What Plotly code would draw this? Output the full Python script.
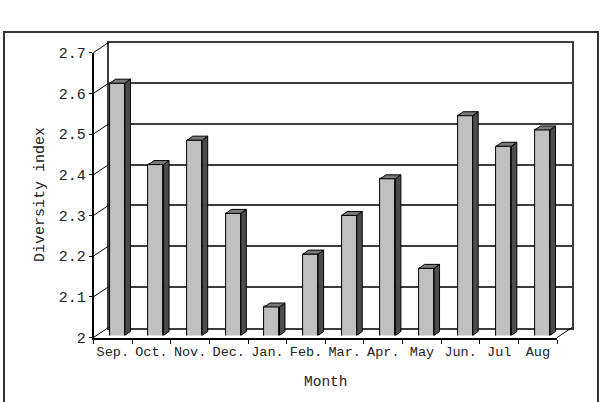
import plotly.graph_objects as go

# ---------------- data ----------------
months = ["Sep.", "Oct.", "Nov.", "Dec.", "Jan.", "Feb.", "Mar.", "Apr.", "May", "Jun.", "Jul", "Aug"]
diversity = [2.62, 2.42, 2.48, 2.30, 2.07, 2.20, 2.295, 2.385, 2.165, 2.54, 2.465, 2.505]
y_ticks = [2.0, 2.1, 2.2, 2.3, 2.4, 2.5, 2.6, 2.7]
y_ticktext = ["2", "2.1", "2.2", "2.3", "2.4", "2.5", "2.6", "2.7"]
x_title = "Month"
y_title = "Diversity index"

# ---------------- geometry (pixels) ----------------
W, H = 604, 402
Y0, Y1 = 2.0, 2.7
PPU = 407.0  # pixels per unit of the value axis

def px(x):
    return x / W

def py(y):
    return 1 - y / H

def ydom(ybase):
    return [py(ybase), py(ybase - (Y1 - Y0) * PPU)]

FRONT = dict(x0=93.5, x1=557.2, yb=337.5)
BARS = dict(x0=98.1, x1=561.8, yb=335.5)
BACK = dict(x0=108.5, x1=572.0, yb=327.5)

FONT = "Liberation Mono"
WALL = "#3c3c3c"

n = len(months)
pos = list(range(n))
bw = 0.388      # bar face width (category units)
ddx = 0.142     # depth offset of a bar (category units)
ddy = 0.0098    # depth offset of a bar (value units)

fig = go.Figure()

# back wall subplot (xy) – registered with an empty trace
fig.add_trace(go.Scatter(x=[], y=[], xaxis="x", yaxis="y", showlegend=False, hoverinfo="skip"))

# bars: front faces
fig.add_trace(go.Bar(
    x=pos, y=diversity, width=bw, xaxis="x2", yaxis="y2",
    marker=dict(color="#c0c0c0", line=dict(color="#000000", width=1)),
    showlegend=False, hoverinfo="skip"))

# bars: side faces
sx, sy = [], []
for i, v in zip(pos, diversity):
    xr = i + bw / 2
    sx += [xr, xr, xr + ddx, xr + ddx, xr, None]
    sy += [Y0, v, v + ddy, Y0 + ddy, Y0, None]
fig.add_trace(go.Scatter(
    x=sx, y=sy, xaxis="x2", yaxis="y2", mode="lines", fill="toself",
    fillcolor="#4c4c4c", line=dict(color="#000000", width=1),
    showlegend=False, hoverinfo="skip"))

# bars: top faces
tx, ty = [], []
for i, v in zip(pos, diversity):
    xl, xr = i - bw / 2, i + bw / 2
    tx += [xl, xr, xr + ddx, xl + ddx, xl, None]
    ty += [v, v, v + ddy, v + ddy, v, None]
fig.add_trace(go.Scatter(
    x=tx, y=ty, xaxis="x2", yaxis="y2", mode="lines", fill="toself",
    fillcolor="#7a7a7a", line=dict(color="#000000", width=1),
    showlegend=False, hoverinfo="skip"))

# front axes subplot (x3y3): invisible carrier trace
fig.add_trace(go.Scatter(
    x=months, y=diversity, xaxis="x3", yaxis="y3", mode="markers",
    marker=dict(opacity=0), showlegend=False, hoverinfo="skip"))

# ---------------- chart furniture ----------------
shapes = []
# left wall: oblique lines from front axis ticks to the back wall
for t in y_ticks:
    yf = FRONT["yb"] - (t - Y0) * PPU
    yk = BACK["yb"] - (t - Y0) * PPU
    shapes.append(dict(type="line", xref="paper", yref="paper",
                       x0=px(FRONT["x0"]), y0=py(yf), x1=px(BACK["x0"]), y1=py(yk),
                       line=dict(color="#000000", width=1)))
# floor right edge
shapes.append(dict(type="line", xref="paper", yref="paper",
                   x0=px(FRONT["x1"]), y0=py(FRONT["yb"]), x1=px(BACK["x1"]), y1=py(BACK["yb"]),
                   line=dict(color="#000000", width=1)))
# outer chart border
shapes.append(dict(type="rect", xref="paper", yref="paper",
                   x0=px(4), y0=-0.02, x1=px(598), y1=py(32),
                   line=dict(color="#333333", width=2), layer="below"))

annotations = [
    dict(text=x_title, xref="paper", yref="paper", x=px(325.5), y=py(381.5),
         showarrow=False, font=dict(family=FONT, size=14.5, color="#222222"),
         xanchor="center", yanchor="middle"),
    dict(text=y_title, xref="paper", yref="paper", x=px(41), y=py(195),
         showarrow=False, textangle=-90, font=dict(family=FONT, size=15, color="#222222"),
         xanchor="center", yanchor="middle"),
]

fig.update_layout(
    width=W, height=H, margin=dict(l=0, r=0, t=0, b=0, autoexpand=False),
    paper_bgcolor="white", plot_bgcolor="rgba(0,0,0,0)",
    showlegend=False, bargap=0,
    font=dict(family=FONT, color="#222222"),
    shapes=shapes, annotations=annotations,
    # back wall
    xaxis=dict(domain=[px(BACK["x0"]), px(BACK["x1"])], range=[0, 1], showgrid=False,
               zeroline=False, showticklabels=False, ticks="", showline=True, mirror=True,
               linecolor=WALL, linewidth=1.5, anchor="y", fixedrange=True, automargin=False),
    yaxis=dict(domain=ydom(BACK["yb"]), range=[Y0, Y1], tickvals=y_ticks, showgrid=True,
               gridcolor=WALL, gridwidth=1.5, zeroline=False, showticklabels=False, ticks="",
               showline=True, mirror=True, linecolor=WALL, linewidth=1.5, anchor="x",
               fixedrange=True, automargin=False),
    # bar plane
    xaxis2=dict(domain=[px(BARS["x0"]), px(BARS["x1"])], range=[-0.5, n - 0.5], visible=False,
                anchor="y2", fixedrange=True, automargin=False),
    yaxis2=dict(domain=ydom(BARS["yb"]), range=[Y0, Y1], visible=False, anchor="x2",
                fixedrange=True, automargin=False),
    # front axes
    xaxis3=dict(domain=[px(FRONT["x0"]), px(FRONT["x1"])], type="category",
                categoryorder="array", categoryarray=months, range=[-0.5, n - 0.5],
                tickson="boundaries", ticks="outside", ticklen=4, tickcolor="#000000",
                tickangle=0, showline=True, linecolor="#000000", linewidth=2, showgrid=False,
                zeroline=False, tickfont=dict(family=FONT, size=13.5, color="#222222"),
                anchor="y3", fixedrange=True, automargin=False),
    yaxis3=dict(domain=ydom(FRONT["yb"]), range=[Y0, Y1], tickvals=y_ticks,
                ticktext=y_ticktext, ticks="outside", ticklen=3, tickcolor="#000000",
                showline=True, linecolor="#000000", linewidth=1.5, showgrid=False,
                zeroline=False, tickfont=dict(family=FONT, size=15, color="#222222"),
                anchor="x3", fixedrange=True, automargin=False),
)

fig.write_html("out.html")
